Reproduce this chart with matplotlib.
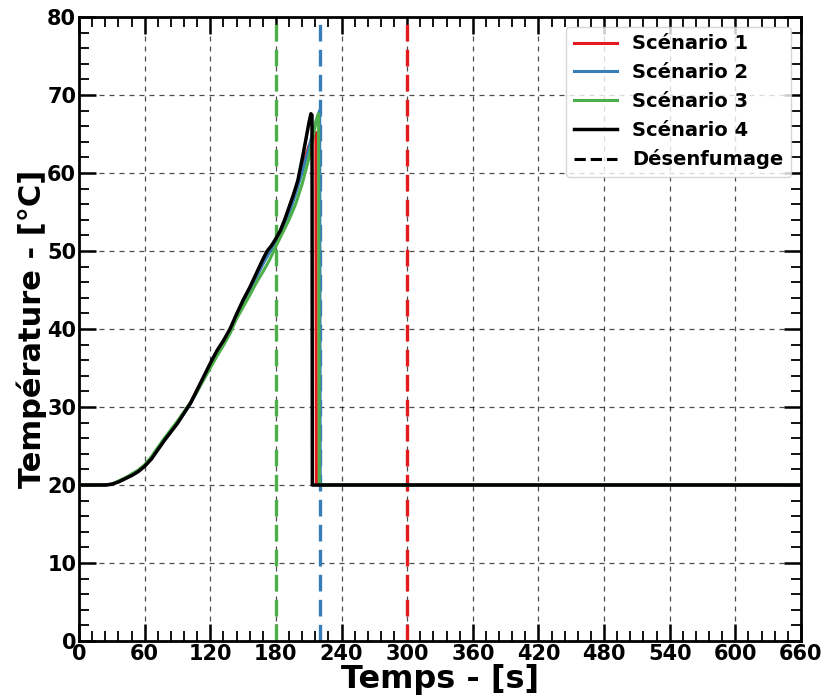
import matplotlib
matplotlib.use("Agg")
import matplotlib.pyplot as plt
from matplotlib.ticker import MultipleLocator

# ---- data ----
t_black = [0, 6, 12, 18, 24, 30, 36, 42, 48, 54, 60, 66, 72, 78, 84, 90, 96, 102, 108, 114,
           120, 126, 132, 138, 144, 150, 156, 162, 168, 172, 176, 180, 184, 188, 192, 196,
           200, 204, 207, 210, 212, 213, 213.3, 660]
T_black = [20, 20, 20, 20, 20, 20.1, 20.4, 20.8, 21.2, 21.7, 22.4, 23.3, 24.5, 25.7, 26.8, 27.9,
           29.2, 30.5, 32.2, 33.9, 35.6, 37.2, 38.5, 40.0, 41.9, 43.7, 45.3, 47.1, 48.9, 50.0,
           50.7, 51.6, 52.6, 54.0, 55.6, 57.2, 59.0, 61.8, 64.0, 66.3, 67.6, 67.4, 20, 20]

t_red = [0, 6, 12, 18, 24, 30, 36, 42, 48, 54, 60, 66, 72, 78, 84, 90, 96, 102, 108, 114,
         120, 126, 132, 138, 144, 150, 156, 162, 168, 174, 180, 186, 192, 198, 204, 210,
         214, 216.5, 217, 660]
T_red = [20, 20, 20, 20, 20, 20.1, 20.4, 20.8, 21.3, 21.8, 22.5, 23.4, 24.6, 25.8, 26.9, 28.1,
         29.3, 30.6, 32.2, 33.8, 35.4, 36.9, 38.2, 39.7, 41.6, 43.3, 45.1, 46.7, 48.4, 50.1,
         51.3, 53.2, 55.5, 58.0, 60.8, 63.4, 64.6, 65.2, 20, 20]

t_blue = [0, 6, 12, 18, 24, 30, 36, 42, 48, 54, 60, 66, 72, 78, 84, 90, 96, 102, 108, 114,
          120, 126, 132, 138, 144, 150, 156, 162, 168, 174, 180, 186, 192, 198, 204, 210,
          214, 218, 220, 220.5, 660]
T_blue = [20, 20, 20, 20, 20, 20.1, 20.4, 20.8, 21.3, 21.8, 22.5, 23.4, 24.6, 25.8, 26.9, 28.0,
          29.2, 30.5, 32.0, 33.6, 35.2, 36.7, 38.0, 39.6, 41.5, 43.2, 44.9, 46.6, 48.3, 49.8,
          51.0, 52.8, 54.8, 57.3, 60.1, 63.1, 65.4, 67.2, 68.0, 20, 20]

t_green = [0, 6, 12, 18, 24, 30, 36, 42, 48, 54, 60, 66, 72, 78, 84, 90, 96, 102, 108, 114,
           120, 126, 132, 138, 144, 150, 156, 162, 168, 174, 180, 186, 192, 198, 204, 210,
           214, 217, 219, 219.7, 660]
T_green = [20, 20, 20, 20, 20, 20.1, 20.5, 20.9, 21.4, 21.9, 22.6, 23.6, 24.8, 26.0, 27.1, 28.2,
           29.4, 30.6, 32.0, 33.5, 35.0, 36.5, 37.9, 39.4, 41.3, 42.8, 44.3, 45.9, 47.3, 48.8,
           50.6, 52.3, 54.0, 56.0, 58.6, 61.8, 64.6, 66.8, 67.6, 20, 20]

desenfumage_t = [180, 220, 300]
desenfumage_colors = ["#4daf4a", "#377eb8", "#e41a1c"]

labels = ["Scénario 1", "Scénario 2", "Scénario 3", "Scénario 4"]
colors = ["#e41a1c", "#377eb8", "#4daf4a", "black"]

# ---- plot ----
fig = plt.figure(figsize=(8.24, 6.99), dpi=100)
ax = fig.add_axes([79 / 824, 1 - 641 / 699, 722 / 824, 624 / 699])

for xv, c in zip(desenfumage_t, desenfumage_colors):
    ax.axvline(xv, color=c, linestyle=(0, (5, 2.5)), lw=2.4, zorder=2)

series = [(t_red, T_red), (t_blue, T_blue), (t_green, T_green), (t_black, T_black)]
lws = [2.2, 2.2, 2.2, 2.5]
handles = []
for (tt, TT), c, lab, lw in zip(series, colors, labels, lws):
    h, = ax.plot(tt, TT, color=c, lw=lw, label=lab, zorder=3)
    handles.append(h)
h_d, = ax.plot([], [], color="black", linestyle="--", lw=2.2, label="Désenfumage")
handles.append(h_d)

ax.set_xlim(0, 660)
ax.set_ylim(0, 80)
ax.xaxis.set_major_locator(MultipleLocator(60))
ax.xaxis.set_minor_locator(MultipleLocator(12))
ax.yaxis.set_major_locator(MultipleLocator(10))
ax.yaxis.set_minor_locator(MultipleLocator(2))

ax.grid(True, which="major", color="black", linestyle=(0, (4, 4)), lw=0.9, alpha=0.7)
ax.tick_params(which="major", direction="in", length=12, width=1.8, top=True, right=True,
               labelsize=15, pad=2)
ax.tick_params(which="minor", direction="in", length=7, width=1.3, top=True, right=True)
for lab in ax.get_xticklabels() + ax.get_yticklabels():
    lab.set_fontweight("bold")
for sp in ax.spines.values():
    sp.set_linewidth(2)

ax.set_xlabel("Temps - [s]", fontsize=23, fontweight="bold", labelpad=0)
ax.set_ylabel("Température - [°C]", fontsize=22, fontweight="bold", labelpad=0)

leg = ax.legend(handles=handles, loc="upper right", prop={"size": 14, "weight": "bold"},
                handlelength=2.2, borderaxespad=0.5, labelspacing=0.5)
leg.set_zorder(5)

fig.savefig("out.png", dpi=100)
